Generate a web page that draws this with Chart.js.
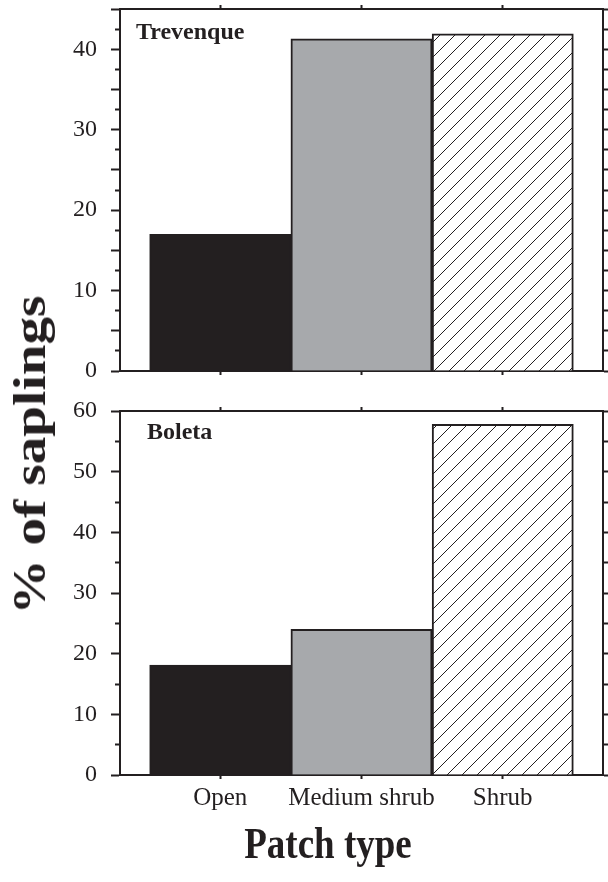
<!DOCTYPE html>
<html>
<head>
<meta charset="utf-8">
<script src="https://cdn.jsdelivr.net/npm/chart.js@4.4.0/dist/chart.umd.min.js"></script>
<style>
  body { margin: 0; background: #fff; width: 608px; height: 882px; position: relative; overflow: hidden;
         font-family: "Liberation Serif", "Times New Roman", serif; color: #231f20; }
  canvas { position: absolute; left: 0; }
  .lbl { position: absolute; font-weight: bold; white-space: nowrap; line-height: 24px; font-size: 24px; }
  #yTitle { position: absolute; left: 30px; top: 455px; font-weight: bold; font-size: 46px;
            white-space: nowrap; line-height: 1; transform: translate(-50%, -50%) rotate(-90deg) scaleX(1.2); }
  #xTitle { position: absolute; left: 328px; top: 843px; font-weight: bold; font-size: 37px;
            white-space: nowrap; line-height: 1; transform: translate(-50%, -50%) scaleY(1.2); }
</style>
</head>
<body>
<canvas id="topChart" width="608" height="420" style="top:-20px"></canvas>
<canvas id="bottomChart" width="608" height="500" style="top:382px"></canvas>
<div class="lbl" style="left:136px; top:19px">Trevenque</div>
<div class="lbl" style="left:147px; top:419px">Boleta</div>
<div id="yTitle">% of saplings</div>
<div id="xTitle">Patch type</div>
<script>
// categories and bar positions on the shared x axis
const patchTypes = ['Open', 'Medium shrub', 'Shrub'];
const patchPositions = [1, 2, 3];

// % of saplings per patch type
const trevenqueValues = [17.0, 41.3, 41.9];
const boletaValues = [18.1, 24.0, 57.8];

// y tick positions (labels only at multiples of 10)
const trevenqueTicks = [0, 2.5, 5, 7.5, 10, 12.5, 15, 17.5, 20, 22.5, 25, 27.5, 30, 32.5, 35, 37.5, 40, 42.5, 45];
const boletaTicks = [0, 5, 10, 15, 20, 25, 30, 35, 40, 45, 50, 55, 60];

var ink = '#231f20';
var serif = '"Liberation Serif", "Times New Roman", serif';

// diagonal hatch used for the Shrub bars
function makeHatch(ctx) {
    const c = document.createElement('canvas');
    c.width = 15;
    c.height = 15;
    const g = c.getContext('2d');
    g.fillStyle = '#fff';
    g.fillRect(0, 0, 15, 15);
    g.strokeStyle = ink;
    g.lineWidth = 1;
    [-15, 0, 15].forEach(k => {
        g.beginPath();
        g.moveTo(k - 2, 17);
        g.lineTo(k + 17, -2);
        g.stroke();
    });
    return ctx.createPattern(c, 'repeat');
}

// one panel = one chart; axis boxes get fixed sizes so both panels line up
function buildPanel(canvasId, values, yTicks, yMax, majorStep, topH, bottomH, showLabels) {
    const ctx = document.getElementById(canvasId).getContext('2d');
    const setTicks = list => scale => { scale.ticks = list.map(v => ({ value: v })); };

    return new Chart(ctx, {
        type: 'bar',
        data: {
            datasets: [{
                data: patchPositions.map((p, i) => ({ x: p, y: values[i] })),
                backgroundColor: ['#231f20', '#a7a9ac', makeHatch(ctx)],
                borderColor: ink,
                borderWidth: 2,
                barPercentage: 1,
                categoryPercentage: 1
            }]
        },
        options: {
            responsive: false,
            animation: false,
            layout: { padding: 0 },
            plugins: {
                legend: { display: false },
                tooltip: { enabled: false }
            },
            scales: {
                x: {
                    type: 'linear',
                    position: 'bottom',
                    min: 0.29,
                    max: 3.71,
                    offset: false,
                    afterBuildTicks: setTicks(patchPositions),
                    afterFit: s => { s.height = bottomH; },
                    ticks: {
                        display: showLabels,
                        autoSkip: false,
                        maxRotation: 0,
                        padding: 4,
                        color: ink,
                        font: { family: serif, size: 25 },
                        callback: v => patchTypes[patchPositions.indexOf(v)]
                    },
                    grid: { offset: false, drawOnChartArea: false, tickLength: 4, tickWidth: 2, tickColor: ink },
                    border: { display: true, color: ink, width: 2 }
                },
                xTop: {
                    type: 'linear',
                    position: 'top',
                    min: 0.29,
                    max: 3.71,
                    offset: false,
                    afterBuildTicks: setTicks(patchPositions),
                    afterFit: s => { s.height = topH; },
                    ticks: { display: false },
                    grid: { offset: false, drawOnChartArea: false, tickLength: 4, tickWidth: 2, tickColor: ink },
                    border: { display: true, color: ink, width: 2 }
                },
                y: {
                    position: 'left',
                    min: 0,
                    max: yMax,
                    afterBuildTicks: setTicks(yTicks),
                    afterFit: s => { s.width = 120; },
                    ticks: {
                        autoSkip: false,
                        padding: 14,
                        color: ink,
                        font: { family: serif, size: 24 },
                        callback: v => (v % 10 === 0 ? v : '')
                    },
                    grid: {
                        drawOnChartArea: false,
                        tickLength: 9,
                        tickWidth: 2,
                        tickColor: ink,
                        // minor ticks: dash so only the inner 5px shows
                        tickBorderDash: c => (c.tick && c.tick.value % majorStep === 0) ? [] : [0, 4, 9]
                    },
                    border: { display: true, color: ink, width: 2 }
                },
                yRight: {
                    position: 'right',
                    min: 0,
                    max: yMax,
                    afterBuildTicks: setTicks(yTicks),
                    afterFit: s => { s.width = 5; },
                    ticks: { display: false },
                    grid: { drawOnChartArea: false, tickLength: 5, tickWidth: 2, tickColor: ink },
                    border: { display: true, color: ink, width: 2 }
                }
            }
        }
    });
}

buildPanel('topChart', trevenqueValues, trevenqueTicks, 45, 5, 29, 29, false);
buildPanel('bottomChart', boletaValues, boletaTicks, 60, 10, 29, 107, true);
</script>
</body>
</html>
